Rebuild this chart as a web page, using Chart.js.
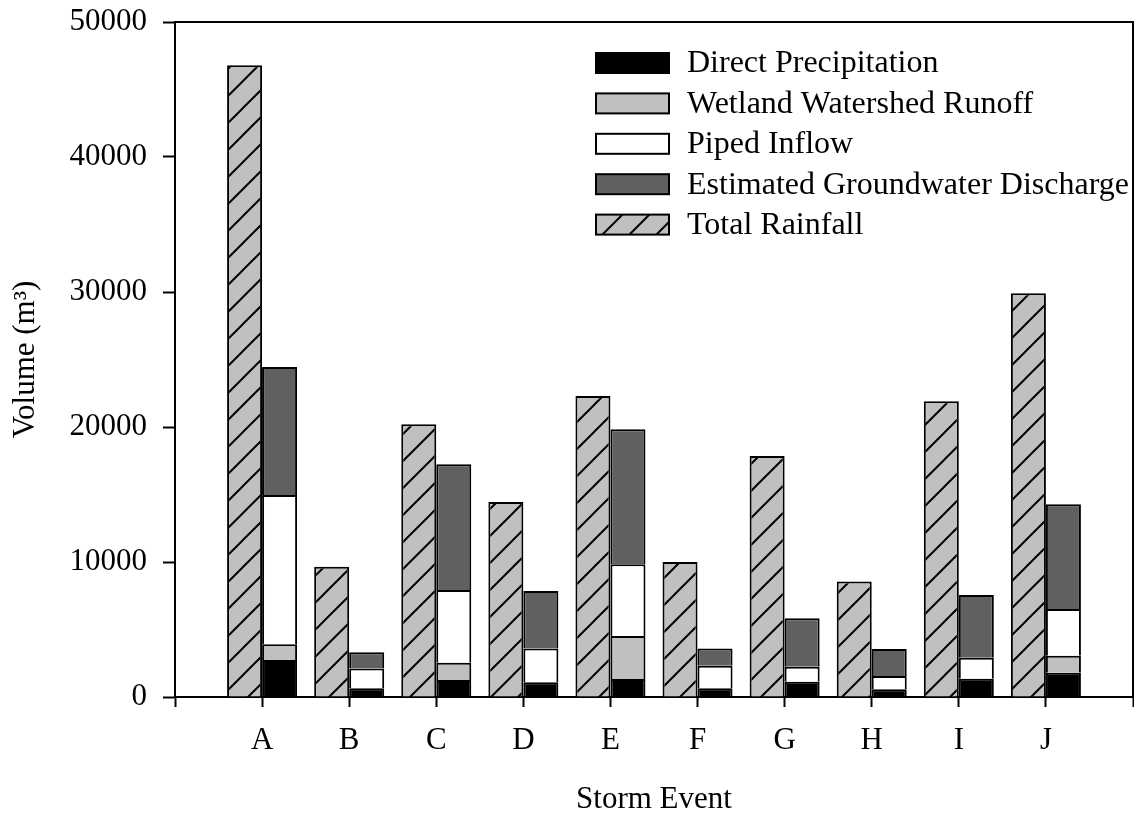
<!DOCTYPE html>
<html>
<head>
<meta charset="utf-8" />
<title>Storm Event Water Budget</title>
<script src="https://cdn.jsdelivr.net/npm/chart.js@4/dist/chart.umd.min.js"></script>
<style>
  html, body { margin: 0; padding: 0; background: #fff; }
</style>
</head>
<body>
<canvas id="chart-storm" width="1134" height="815"></canvas>

<script>
// storm events and volumes (m3)
var events = ['A', 'B', 'C', 'D', 'E', 'F', 'G', 'H', 'I', 'J'];
var directPrecip  = [2740, 640, 1260, 1090, 1330, 650, 1130, 570, 1360, 1800];
var wetlandRunoff = [1160, 0, 1280, 0, 3190, 0, 0, 0, 0, 1260];
var pipedInflow   = [11060, 1480, 5390, 2510, 5310, 1670, 1120, 990, 1550, 3460];
var groundwater   = [9490, 1190, 9310, 4250, 10000, 1280, 3580, 2000, 4650, 7750];
var totalRainfall = [46800, 9650, 20200, 14450, 22300, 10000, 17850, 8550, 21900, 29900];
var yTicks = [0, 10000, 20000, 30000, 40000, 50000];

var serif = '"Liberation Serif", "Times New Roman", serif';

// empty slot at each end so the events sit one step in from the frame
function padded(arr) { return [null].concat(arr, [null]); }
var labels = [''].concat(events, ['']);

// grey fill with "/" hatching for the rainfall bars
function makeHatch(ctx) {
  var size = 27;
  var c = document.createElement('canvas');
  c.width = size; c.height = size;
  var g = c.getContext('2d');
  g.fillStyle = '#c0c0c0';
  g.fillRect(0, 0, size, size);
  g.strokeStyle = '#000';
  g.lineWidth = 2;
  g.beginPath();
  g.moveTo(-2, size + 2); g.lineTo(size + 2, -2);
  g.moveTo(-2, 2); g.lineTo(2, -2);
  g.moveTo(size - 2, size + 2); g.lineTo(size + 2, size - 2);
  g.stroke();
  return ctx.createPattern(c, 'repeat');
}

var canvas = document.getElementById('chart-storm');
var ctx = canvas.getContext('2d');
var hatch = makeHatch(ctx);

// no bottom edge, so stacked segments share a single 2px divider
function barSet(label, data, fill, stack) {
  return {
    label: label,
    data: padded(data),
    backgroundColor: fill,
    borderColor: '#000',
    borderWidth: { top: 2, left: 2, right: 2, bottom: 0 },
    borderSkipped: false,
    stack: stack,
    barPercentage: 1.0,
    categoryPercentage: 0.804
  };
}

// rainfall first so its stack sits on the left of each tick
var datasets = [
  barSet('Total Rainfall', totalRainfall, hatch, 'rain'),
  barSet('Direct Precipitation', directPrecip, '#000000', 'parts'),
  barSet('Wetland Watershed Runoff', wetlandRunoff, '#c0c0c0', 'parts'),
  barSet('Piped Inflow', pipedInflow, '#ffffff', 'parts'),
  barSet('Estimated Groundwater Discharge', groundwater, '#606060', 'parts')
];
var legendOrder = [1, 2, 3, 4, 0];

// frame round the plot area plus legend in the upper right
var framePlugin = {
  id: 'frameAndLegend',
  afterDraw: function (chart) {
    var a = chart.chartArea;
    var c = chart.ctx;
    c.save();
    c.strokeStyle = '#000';
    c.lineWidth = 2;
    c.beginPath();
    c.moveTo(a.left, a.top);
    c.lineTo(a.right, a.top);
    c.lineTo(a.right, a.bottom);
    c.stroke();

    c.font = '32px ' + serif;
    c.textBaseline = 'middle';
    c.textAlign = 'left';
    var x0 = a.left + 421;
    legendOrder.forEach(function (di, i) {
      var ds = chart.data.datasets[di];
      var yc = a.top + 41 + i * 40.4;
      c.fillStyle = ds.backgroundColor;
      c.fillRect(x0, yc - 10, 73, 20);
      c.strokeRect(x0, yc - 10, 73, 20);
      c.fillStyle = '#000';
      c.fillText(ds.label, x0 + 91, yc + 1);
    });
    c.restore();
  }
};

new Chart(ctx, {
  type: 'bar',
  data: { labels: labels, datasets: datasets },
  options: {
    responsive: false,
    animation: false,
    layout: { padding: { top: 22, right: 1, left: 0, bottom: 0 } },
    plugins: {
      legend: { display: false },
      tooltip: { enabled: false }
    },
    scales: {
      x: {
        type: 'category',
        stacked: true,
        offset: false,
        grid: {
          offset: false,
          drawOnChartArea: false,
          drawTicks: true,
          tickLength: 10,
          tickWidth: 2,
          tickColor: '#000'
        },
        border: { color: '#000', width: 2 },
        ticks: {
          autoSkip: false,
          maxRotation: 0,
          padding: 15,
          color: '#000',
          font: { family: serif, size: 31 }
        },
        title: {
          display: true,
          text: 'Storm Event',
          color: '#000',
          padding: { top: 0, bottom: 0 },
          font: { family: serif, size: 31, lineHeight: 1 }
        },
        afterFit: function (s) {
          s.height = 118;
          s.paddingLeft = 0;
          s.paddingRight = 0;
        }
      },
      y: {
        stacked: true,
        min: yTicks[0],
        max: yTicks[yTicks.length - 1],
        afterBuildTicks: function (s) {
          s.ticks = yTicks.map(function (v) { return { value: v }; });
        },
        grid: {
          drawOnChartArea: false,
          drawTicks: true,
          tickLength: 12,
          tickWidth: 2,
          tickColor: '#000'
        },
        border: { color: '#000', width: 2 },
        ticks: {
          padding: 16,
          color: '#000',
          font: { family: serif, size: 31 },
          callback: function (v) { return String(v); }
        },
        title: {
          display: true,
          text: 'Volume (m³)',
          color: '#000',
          padding: { top: 10, bottom: 0 },
          font: { family: serif, size: 31, lineHeight: 1 }
        },
        afterFit: function (s) {
          s.width = 175;
          s.paddingTop = 0;
          s.paddingBottom = 0;
        }
      }
    }
  },
  plugins: [framePlugin]
});
</script>
</body>
</html>
